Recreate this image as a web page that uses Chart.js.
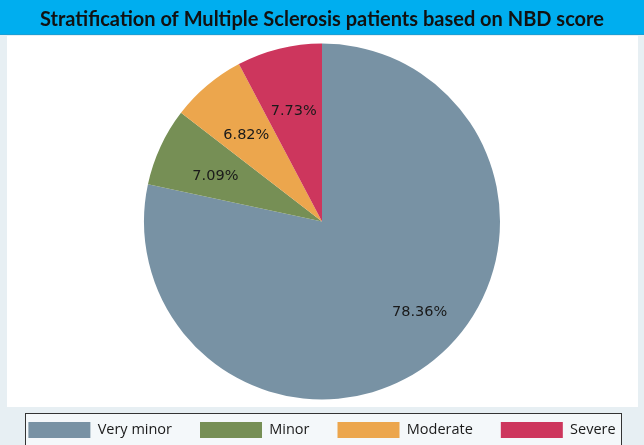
<!DOCTYPE html>
<html>
<head>
  <title>NBD score stratification</title>
  <script src="https://cdn.jsdelivr.net/npm/chart.js"></script>
  <style>
    html, body { margin: 0; padding: 0; background: #e7eff3; }
    #wrap { width: 644px; height: 445px; }
  </style>
</head>
<body>
  <div id="wrap"><canvas id="nbdChart" width="644" height="445"></canvas></div>
  <script>
    // data
    const categories = ['Very minor', 'Minor', 'Moderate', 'Severe'];
    const shares = [78.36, 7.09, 6.82, 7.73];
    const titleText = 'Stratification of Multiple Sclerosis patients based on NBD score';

    const sliceColors = ['#7892a4', '#768f55', '#eca64d', '#cd365d'];

    // backgrounds: cyan title bar, grey page, white plot panel, legend frame
    const frame = {
      id: 'frame',
      beforeInit(chart) {
        // shrink the legend block so the labels sit low like the original
        const fit = chart.legend.fit;
        chart.legend.fit = function () {
          fit.call(this);
          this.height = 51;
        };
      },
      beforeDraw(chart) {
        const ctx = chart.ctx;
        ctx.save();
        ctx.fillStyle = '#e7eff3';
        ctx.fillRect(0, 0, chart.width, chart.height);
        ctx.fillStyle = '#ffffff';
        ctx.fillRect(7, 36, 631, 371);
        ctx.fillStyle = '#00aeef';
        ctx.fillRect(0, 0, chart.width, 35);
        ctx.fillStyle = '#1a9fd6';
        ctx.fillRect(0, 34, chart.width, 1);
        ctx.fillStyle = '#f4f8fa';
        ctx.fillRect(25, 413, 596, 40);
        ctx.strokeStyle = '#333333';
        ctx.lineWidth = 1;
        ctx.strokeRect(25.5, 413.5, 596, 40);
        ctx.restore();
      }
    };

    // percentage labels inside the slices
    const sliceLabels = {
      id: 'sliceLabels',
      afterDatasetsDraw(chart) {
        const ctx = chart.ctx;
        const meta = chart.getDatasetMeta(0);
        ctx.save();
        ctx.font = '14.5px "DejaVu Sans"';
        ctx.fillStyle = '#1a1a1a';
        ctx.textAlign = 'center';
        ctx.textBaseline = 'middle';
        meta.data.forEach((arc, i) => {
          const p = arc.getProps(['x', 'y', 'startAngle', 'endAngle', 'outerRadius'], true);
          let mid = (p.startAngle + p.endAngle) / 2;
          let k = 0.66;
          if (i === 0) { mid -= 0.14; k = 0.75; }
          const x = p.x + Math.cos(mid) * p.outerRadius * k;
          const y = p.y + Math.sin(mid) * p.outerRadius * k + (i === 0 ? 0 : 4);
          ctx.fillText(shares[i].toFixed(2) + '%', x, y);
        });
        ctx.restore();
      }
    };

    new Chart(document.getElementById('nbdChart'), {
      type: 'pie',
      data: {
        labels: categories,
        datasets: [{
          data: shares,
          backgroundColor: sliceColors,
          borderWidth: 0,
          radius: 178,
          clip: false
        }]
      },
      options: {
        responsive: false,
        animation: false,
        layout: { padding: 0 },
        plugins: {
          tooltip: { enabled: false },
          title: {
            display: true,
            text: titleText,
            color: '#111111',
            font: { family: 'Lato', size: 20, weight: 'bold' },
            padding: { top: 8, bottom: 17 }
          },
          legend: {
            position: 'bottom',
            labels: {
              color: '#1a1a1a',
              font: { family: '"Open Sans"', size: 14.5 },
              boxWidth: 62,
              boxHeight: 16,
              padding: 28
            }
          }
        }
      },
      plugins: [frame, sliceLabels]
    });
  </script>
</body>
</html>
